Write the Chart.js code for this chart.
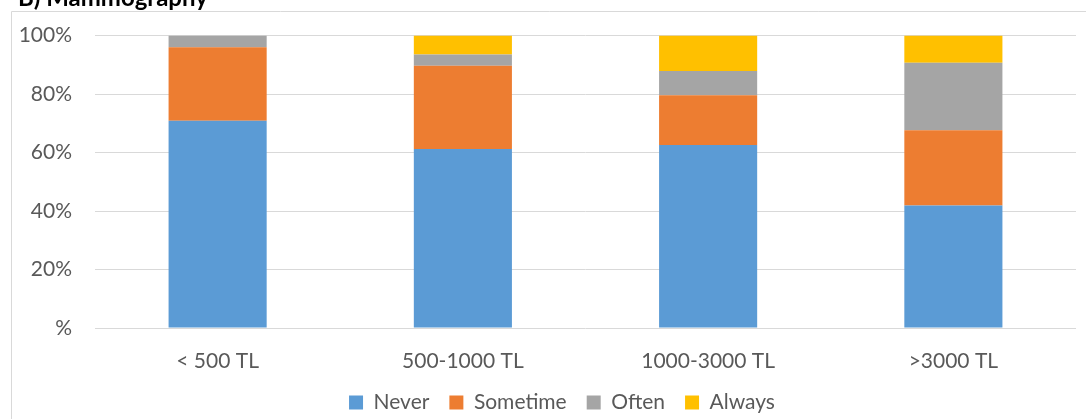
<!DOCTYPE html>
<html>
<head>
<meta charset="utf-8">
<script src="https://cdn.jsdelivr.net/npm/chart.js@4"></script>
<style>
  html, body { margin: 0; padding: 0; background: #ffffff; }
  #wrap { position: relative; width: 1086px; height: 419px; overflow: hidden; }
  canvas { display: block; }
</style>
</head>
<body>
<div id="wrap"><canvas id="chart" width="1086" height="419"></canvas></div>
<script>
// Income groups and share of answers (%) for mammography
const categories = ['< 500 TL', '500-1000 TL', '1000-3000 TL', '>3000 TL'];
const never    = [70.9, 61.2, 62.6, 41.9];
const sometime = [25.1, 28.5, 17.0, 25.7];
const often    = [4.0, 3.8, 8.3, 23.1];
const always   = [0.0, 6.5, 12.1, 9.3];
const yTicks   = [0, 20, 40, 60, 80, 100];
const chartTitle = 'B) Mammography';

const FONT = 'Lato, "Open Sans", sans-serif';
const TEXT = '#595959';
const GRID = '#d9d9d9';

// Frame around the chart and the heading above it
const framePlugin = {
  id: 'frame',
  beforeDraw(chart) {
    const ctx = chart.ctx;
    ctx.save();
    ctx.strokeStyle = GRID;
    ctx.lineWidth = 1;
    ctx.beginPath();
    ctx.moveTo(11.5, chart.height + 5);
    ctx.lineTo(11.5, 11.5);
    ctx.lineTo(chart.width + 5, 11.5);
    ctx.stroke();
    ctx.fillStyle = '#000000';
    ctx.font = 'bold 24px ' + FONT;
    ctx.textBaseline = 'alphabetic';
    ctx.textAlign = 'left';
    ctx.fillText(chartTitle, 18, 6);
    ctx.restore();
  }
};

// Nudge the legend to sit lower and further right
const legendShift = {
  id: 'legendShift',
  afterLayout(chart) {
    const lg = chart.legend;
    if (!lg) return;
    lg.top += 4; lg.bottom += 4;
    lg.left += 24; lg.right += 24;
  }
};

const mk = (label, data, color) => ({
  label, data, backgroundColor: color, borderWidth: 0,
  barPercentage: 0.4, categoryPercentage: 1.0
});

new Chart(document.getElementById('chart'), {
  type: 'bar',
  data: {
    labels: categories,
    datasets: [
      mk('Never', never, '#5b9bd5'),
      mk('Sometime', sometime, '#ed7d31'),
      mk('Often', often, '#a5a5a5'),
      mk('Always', always, '#ffc000')
    ]
  },
  options: {
    responsive: false,
    animation: false,
    layout: { padding: { left: 0, right: 10, top: 35, bottom: 0 } },
    plugins: {
      legend: {
        position: 'bottom',
        labels: {
          boxWidth: 14, boxHeight: 14, padding: 20,
          color: TEXT, font: { family: FONT, size: 21 }
        }
      },
      tooltip: { enabled: false }
    },
    scales: {
      x: {
        stacked: true,
        grid: { display: false, drawTicks: false },
        border: { display: false },
        ticks: { color: TEXT, padding: 21, font: { family: FONT, size: 21 }, maxRotation: 0 },
        afterFit(scale) { scale.height = 40; }
      },
      y: {
        stacked: true,
        min: 0, max: 100,
        afterBuildTicks(scale) { scale.ticks = yTicks.map(v => ({ value: v })); },
        grid: { color: GRID, lineWidth: 1, drawTicks: false },
        border: { display: false },
        ticks: {
          color: TEXT, padding: 23, font: { family: FONT, size: 21 },
          callback: v => v === 0 ? '%' : v + '%'
        },
        afterFit(scale) { scale.width = 95; }
      }
    }
  },
  plugins: [framePlugin, legendShift]
});
</script>
</body>
</html>
